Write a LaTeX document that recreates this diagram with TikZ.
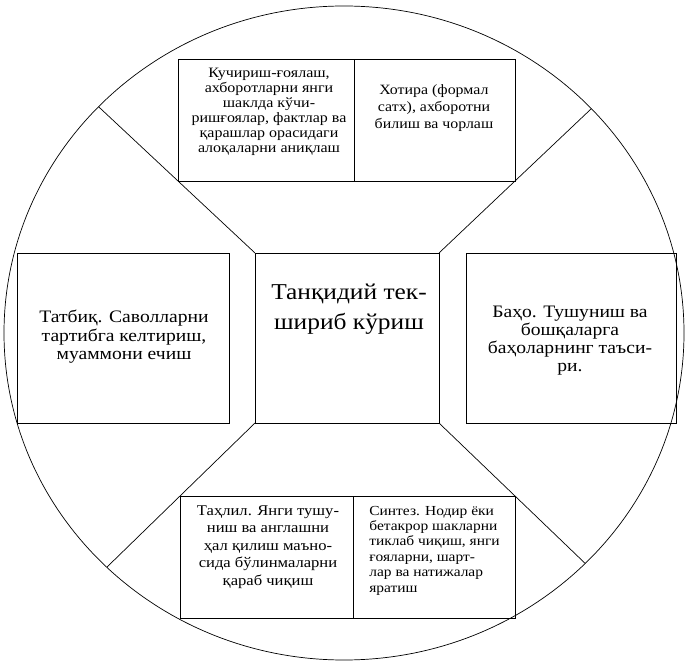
\documentclass[tikz,border=0pt]{standalone}
\usepackage{fontspec}
\setmainfont{Liberation Serif}[FakeStretch=1.12]
\usetikzlibrary{calc}
\begin{document}
\begin{tikzpicture}[x=1pt,y=1pt,
  line width=0.7pt,
  box/.style={draw, inner sep=0pt, outer sep=0pt, anchor=north west},
  txt/.style={inner sep=0pt, anchor=base, align=center}]
\useasboundingbox (0,0) rectangle (687,664);
% outer circle
\draw (344,331) ellipse [x radius=340, y radius=327];
% boxes
\node[box, minimum width=176, minimum height=122] (tl) at (178,605) {};
\node[box, minimum width=161, minimum height=122] (tr) at (354,605) {};
\node[box, minimum width=212, minimum height=170] (l) at (17,411) {};
\node[box, minimum width=184, minimum height=170] (c) at (255,411) {};
\node[box, minimum width=210, minimum height=170] (r) at (466,411) {};
\node[box, minimum width=173, minimum height=122] (bl) at (180,168) {};
\node[box, minimum width=162, minimum height=122] (br) at (353,168) {};
% connectors
\begin{scope}
\clip (344,331) ellipse [x radius=340, y radius=327];
\draw (c.north west) -- ($(c.north west)!2.3!(tl.south west)$);
\draw (c.north east) -- ($(c.north east)!2.3!(tr.south east)$);
\draw (c.south west) -- ($(c.south west)!2.3!(bl.north west)$);
\draw (c.south east) -- ($(c.south east)!2.3!(br.north east)$);
\end{scope}
% texts (anchored at the baseline of the last line)
\node[txt, font=\fontsize{14.3}{15}\selectfont] (ttl) at (269,511)
  {Кучириш-ғоялаш,\\ахборотларни янги\\шаклда кўчи-\\ришғоялар, фактлар ва\\қарашлар орасидаги\\алоқаларни аниқлаш};
\node[txt, font=\fontsize{14.2}{17}\selectfont] (ttr) at (434,535)
  {Хотира (формал\\сатх), ахборотни\\билиш ва чорлаш};
\node[txt, font=\fontsize{22.7}{30}\selectfont] (tc) at (349,334)
  {Танқидий тек-\\шириб кўриш};
\node[txt, font=\fontsize{17.5}{18.5}\selectfont] (tlft) at (124,304)
  {Татбиқ. Саволларни\\тартибга келтириш,\\муаммони ечиш};
\node[txt, font=\fontsize{17.5}{18.3}\selectfont] (trt) at (570,292)
  {Баҳо. Тушуниш ва\\бошқаларга\\баҳоларнинг таъси-\\ри.};
\node[txt, font=\fontsize{14.8}{17.5}\selectfont] (tbl) at (268,79)
  {Таҳлил. Янги тушу-\\ниш ва англашни\\ҳал қилиш маъно-\\сида бўлинмаларни\\қараб чиқиш};
\node[inner sep=0pt, anchor=base west, align=left, font=\fontsize{13.8}{15.4}\selectfont] (tbr) at (369,72)
  {Синтез. Нодир ёки\\бетакрор шакларни\\тиклаб чиқиш, янги\\ғояларни, шарт-\\лар ва натижалар\\яратиш};
\end{tikzpicture}
\end{document}
